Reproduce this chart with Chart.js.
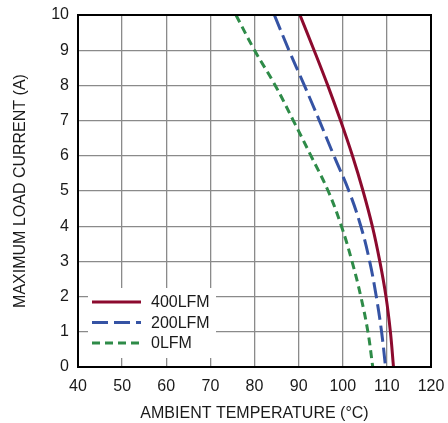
<!DOCTYPE html>
<html>
<head>
<meta charset="utf-8">
<script src="https://cdn.jsdelivr.net/npm/chart.js@4"></script>
<style>
  html, body { margin: 0; padding: 0; background: #fff; }
  #chart { display: block; }
</style>
</head>
<body>
<canvas id="chart" width="448" height="423"></canvas>
<script>
// load current (A), read top to bottom
const current = [10, 9, 8, 7, 6, 5, 4, 3, 2, 1, 0];
// max ambient temperature (°C) for each current, per airflow
const temp400 = [90.3, 93.5, 96.6, 99.5, 102.2, 104.6, 106.7, 108.4, 109.8, 110.8, 111.5];
const temp200 = [84.5, 87.8, 91.3, 94.7, 98.0, 101.4, 104.1, 106.1, 107.6, 108.8, 109.7];
const temp0 = [75.8, 80.0, 84.7, 88.8, 92.8, 96.7, 99.7, 102.1, 104.1, 105.7, 106.8];
const seriesNames = ['400LFM', '200LFM', '0LFM'];
const xTicks = [40, 50, 60, 70, 80, 90, 100, 110, 120];
const yTicks = [0, 1, 2, 3, 4, 5, 6, 7, 8, 9, 10];

const FONT = "'Liberation Sans', Arial, sans-serif";

function toPoints(temps) {
  return temps.map((t, i) => ({ x: t, y: current[i] }));
}

// frame around the plot + legend inside the plot
const framePlugin = {
  id: 'frame',
  afterDraw(chart) {
    const { ctx, chartArea: a } = chart;
    ctx.save();
    ctx.strokeStyle = '#000';
    ctx.lineWidth = 2;
    ctx.strokeRect(a.left, a.top, a.right - a.left, a.bottom - a.top);

    // legend box
    const bx = a.left + 10, by = a.bottom - 79;
    ctx.fillStyle = '#fff';
    ctx.fillRect(bx, by, 128, 70);
    chart.data.datasets.forEach((ds, i) => {
      const y = by + 14 + i * 20.5;
      ctx.beginPath();
      ctx.strokeStyle = ds.borderColor;
      ctx.lineWidth = 3;
      ctx.setLineDash(ds.borderDash || []);
      ctx.moveTo(bx + 4, y);
      ctx.lineTo(bx + 53, y);
      ctx.stroke();
      ctx.setLineDash([]);
      ctx.fillStyle = '#1a1a1a';
      ctx.font = '16px ' + FONT;
      ctx.textAlign = 'left';
      ctx.textBaseline = 'middle';
      ctx.fillText(ds.label, bx + 63, y + 1);
    });
    ctx.restore();
  }
};

const ctx = document.getElementById('chart').getContext('2d');
new Chart(ctx, {
  type: 'scatter',
  data: {
    datasets: [
      { label: seriesNames[0], data: toPoints(temp400), borderColor: '#8c0a2e', borderWidth: 3, borderDash: [] },
      { label: seriesNames[1], data: toPoints(temp200), borderColor: '#3553a4', borderWidth: 3, borderDash: [16, 6] },
      { label: seriesNames[2], data: toPoints(temp0), borderColor: '#2e8b48', borderWidth: 3, borderDash: [8, 5] }
    ].map(d => Object.assign(d, { showLine: true, pointRadius: 0, tension: 0.4, fill: false }))
  },
  options: {
    responsive: false,
    animation: false,
    indexAxis: 'y',
    layout: { padding: { top: 15, right: 17, left: 0, bottom: 0 } },
    plugins: { legend: { display: false }, tooltip: { enabled: false } },
    scales: {
      x: {
        type: 'linear',
        min: 40, max: 120,
        afterBuildTicks: s => { s.ticks = xTicks.map(v => ({ value: v })); },
        afterFit: s => { s.height = 56; s.paddingLeft = 0; s.paddingRight = 0; },
        grid: { color: '#8a8a8a', lineWidth: 1.3, drawTicks: false },
        border: { color: '#000', width: 2 },
        ticks: { color: '#1a1a1a', font: { family: FONT, size: 16 }, padding: 10 },
        title: { display: true, text: 'AMBIENT TEMPERATURE (°C)', color: '#1a1a1a', font: { family: FONT, size: 16 }, padding: { top: 0, bottom: 0 } }
      },
      y: {
        type: 'linear',
        min: 0, max: 10,
        afterBuildTicks: s => { s.ticks = yTicks.map(v => ({ value: v })); },
        afterFit: s => { s.width = 78; s.paddingTop = 0; s.paddingBottom = 0; },
        grid: { color: '#8a8a8a', lineWidth: 1.3, drawTicks: false },
        border: { color: '#000', width: 2 },
        ticks: { color: '#1a1a1a', font: { family: FONT, size: 16 }, padding: 9 },
        title: { display: true, text: 'MAXIMUM LOAD CURRENT (A)', color: '#1a1a1a', font: { family: FONT, size: 16 }, padding: { top: 11, bottom: 0 } }
      }
    }
  },
  plugins: [framePlugin]
});
</script>
</body>
</html>
